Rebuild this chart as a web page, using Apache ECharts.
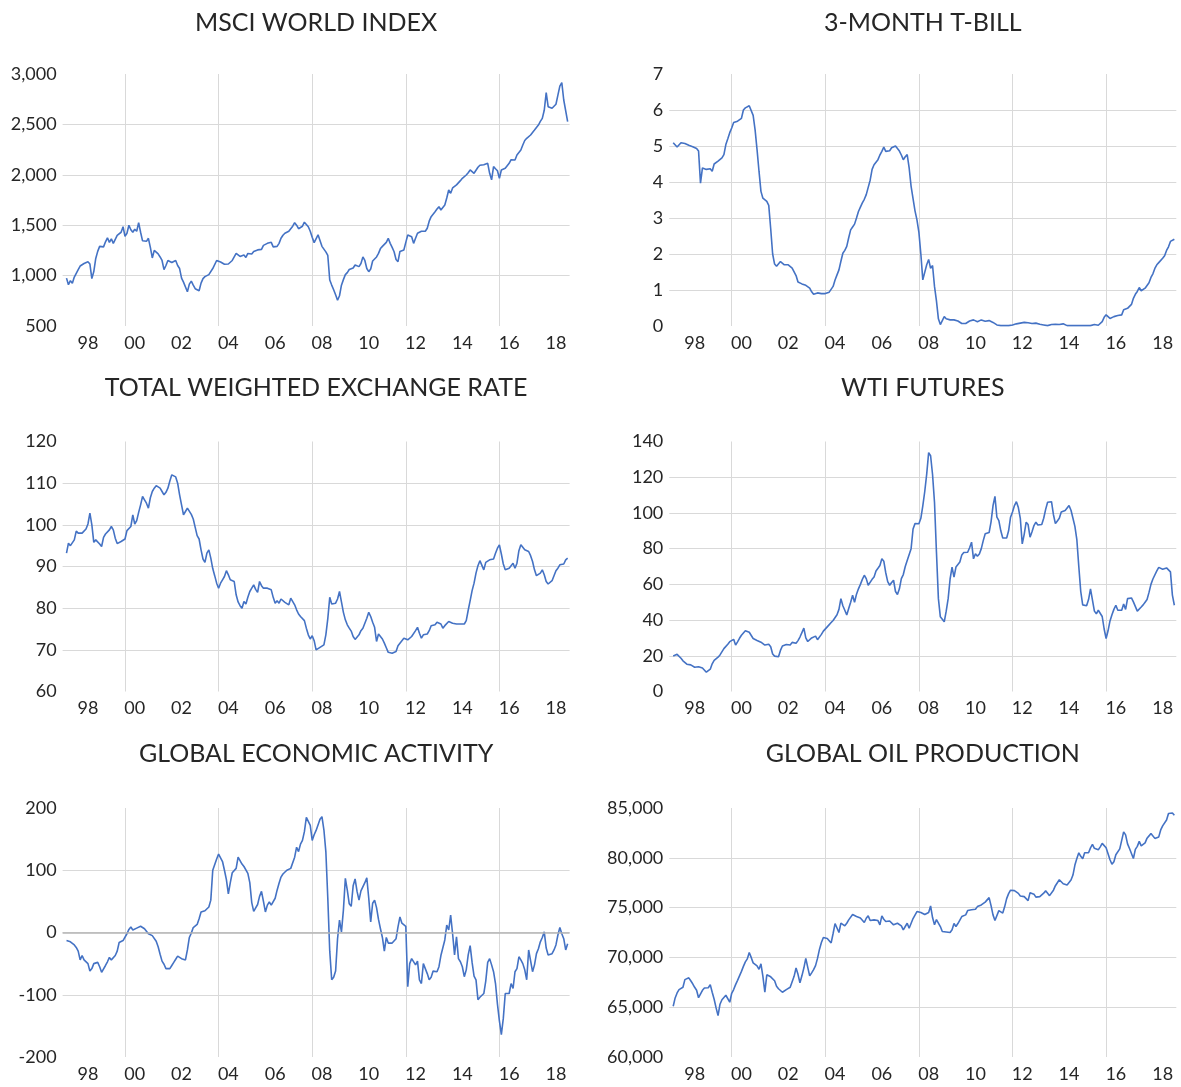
<!DOCTYPE html>
<html>
<head>
<meta charset="utf-8">
<script src="https://cdn.jsdelivr.net/npm/echarts/dist/echarts.min.js"></script>
<style>
html,body{margin:0;padding:0;background:#ffffff;}
#chart{width:1181px;height:1087px;}
</style>
</head>
<body>
<div id="chart"></div>
<script>
// ---------- data (monthly, Jul 1997 - Dec 2018) ----------
const startYear = 1997;
const startMonth = 7;
const xTickLabels = ['98','00','02','04','06','08','10','12','14','16','18'];
const gridYears = [2000, 2004, 2008, 2012, 2016];
const panelTitles = ['MSCI WORLD INDEX','3-MONTH T-BILL','TOTAL WEIGHTED EXCHANGE RATE','WTI FUTURES','GLOBAL ECONOMIC ACTIVITY','GLOBAL OIL PRODUCTION'];

const msciWorld = [
 975,910,950,925,985,1000,
 1060,1095,1110,1120,1125,1137,1115,970,1040,1170,1240,1290,
 1300,1285,1335,1375,1330,1365,1320,1335,1400,1390,1430,1485,
 1390,1420,1500,1455,1430,1460,1440,1525,1430,1345,1330,1340,
 1370,1280,1175,1250,1240,1215,1185,1150,1060,1100,1150,1155,
 1130,1138,1150,1100,1070,975,935,925,840,915,945,905,
 870,855,850,925,970,990,1000,1010,1020,1070,1085,1150,
 1160,1135,1125,1112,1118,1115,1105,1150,1160,1220,1204,1190,
 1185,1205,1180,1220,1225,1215,1240,1235,1255,1270,1260,1300,
 1305,1320,1315,1330,1285,1280,1290,1320,1370,1400,1420,1430,
 1440,1450,1490,1525,1500,1465,1480,1490,1530,1545,1485,1440,
 1380,1327,1345,1405,1390,1290,1300,1235,1200,956,906,860,
 810,755,800,905,960,1010,1030,1060,1058,1075,1105,1090,
 1089,1120,1185,1150,1070,1039,1065,1145,1150,1185,1220,1268,
 1290,1303,1330,1370,1320,1280,1237,1160,1138,1240,1225,1254,
 1330,1403,1400,1386,1320,1370,1420,1436,1440,1426,1440,1470,
 1540,1585,1600,1634,1660,1684,1651,1665,1700,1770,1849,1816,
 1870,1882,1900,1916,1942,1965,1975,1998,2020,2048,2040,2015,
 2000,2075,2095,2114,2100,2088,2114,2015,1950,2081,2060,2040,
 1965,2048,2055,2064,2080,2114,2150,2163,2147,2196,2215,2246,
 2296,2340,2362,2380,2395,2420,2444,2470,2494,2530,2560,2640,
 2815,2676,2665,2660,2680,2700,2790,2880,2914,2742,2759,2527
];

const tBill3m = [
 5.09,5.13,4.97,4.95,5.09,5.12,
 5.07,5.06,5.02,5.0,4.98,4.97,4.93,4.86,3.97,4.39,4.4,4.35,
 4.36,4.37,4.30,4.5,4.55,4.58,4.62,4.67,4.76,5.04,5.2,5.37,
 5.5,5.65,5.67,5.69,5.72,5.77,6.0,6.06,6.05,6.12,6.15,5.85,
 5.45,4.9,4.3,3.74,3.55,3.5,3.46,3.35,2.7,2.0,1.72,1.66,
 1.7,1.79,1.74,1.70,1.71,1.70,1.66,1.61,1.57,1.4,1.22,1.19,
 1.17,1.16,1.13,1.09,1.05,0.95,0.88,0.9,0.92,0.93,0.9,0.87,
 0.9,0.93,0.94,0.96,1.1,1.28,1.42,1.56,1.8,2.02,2.1,2.21,
 2.45,2.67,2.75,2.83,3.0,3.18,3.3,3.42,3.52,3.65,3.85,4.05,
 4.35,4.48,4.55,4.62,4.75,4.85,4.97,4.85,4.9,4.87,4.95,4.9,
 5.0,4.97,4.86,4.75,4.62,4.7,4.76,4.39,3.88,3.83,3.2,2.95,
 2.6,2.0,1.28,1.28,1.7,1.85,1.6,1.68,1.1,0.7,0.2,0.04,
 0.15,0.26,0.2,0.17,0.17,0.17,0.17,0.16,0.14,0.12,0.07,0.07,
 0.07,0.1,0.14,0.16,0.17,0.15,0.12,0.15,0.17,0.12,0.13,0.14,
 0.15,0.13,0.1,0.06,0.03,0.02,0.01,0.01,0.01,0.01,0.01,0.01,
 0.03,0.05,0.06,0.07,0.08,0.09,0.1,0.1,0.09,0.08,0.07,0.06,
 0.08,0.07,0.05,0.04,0.03,0.02,0.01,0.02,0.04,0.05,0.05,0.04,
 0.04,0.05,0.06,0.03,0.01,0.01,0.01,0.01,0.01,0.01,0.01,0.01,
 0.01,0.01,0.01,0.01,0.01,0.01,0.04,0.06,0.02,0.01,0.12,0.24,
 0.31,0.28,0.21,0.24,0.26,0.28,0.29,0.3,0.31,0.45,0.49,0.49,
 0.49,0.6,0.77,0.88,0.96,1.07,0.98,1.0,1.05,1.1,1.2,1.35,
 1.45,1.6,1.7,1.76,1.79,1.88,1.95,2.1,2.2,2.35,2.38,2.41
];

const exchangeRate = [
 93.2,95.6,95.0,94.8,96.4,98.5,
 98.0,98.2,98.0,98.4,99.0,100.2,102.8,100.0,95.8,96.4,96.0,95.4,
 94.8,97.0,97.8,98.2,98.8,99.6,98.8,96.8,95.5,95.2,96.0,96.2,
 96.6,98.6,99.0,99.6,102.4,100.2,101.0,103.0,104.8,106.8,106.0,105.2,
 104.0,106.5,108.0,108.8,109.4,109.8,108.8,108.0,107.2,107.8,108.8,110.5,
 112.0,112.4,111.5,110.0,107.2,104.8,102.4,103.2,104.0,103.8,102.5,101.4,
 99.4,97.4,96.6,94.0,91.8,91.0,93.2,94.0,92.0,89.5,87.8,86.0,
 84.8,86.0,86.8,87.6,89.0,88.0,86.8,86.8,86.4,83.2,81.5,80.6,
 80.0,81.6,81.0,82.6,84.0,84.8,85.6,84.5,83.8,86.4,85.4,84.8,
 85.0,84.8,84.6,84.4,82.6,81.2,81.8,81.2,82.2,81.8,81.4,81.6,
 80.8,82.4,82.0,80.8,79.6,78.6,78.0,77.6,77.0,75.2,73.6,72.6,
 73.4,72.2,70.0,70.2,70.6,70.8,71.2,73.6,77.5,82.6,81.0,81.0,
 81.2,82.2,84.0,81.5,79.0,77.2,76.0,75.2,74.5,73.2,72.5,72.8,
 73.6,74.6,75.2,75.6,77.6,79.0,78.0,76.6,75.4,72.0,73.8,73.4,
 72.6,71.6,70.5,69.4,69.0,69.2,68.8,69.6,71.0,71.6,72.0,72.8,
 72.6,72.4,72.8,73.2,73.6,74.6,75.4,74.0,72.8,73.6,73.6,73.8,
 74.6,75.8,76.2,76.0,76.6,76.8,76.2,75.2,75.8,76.2,76.8,76.6,
 76.4,76.2,76.2,76.2,76.2,76.2,76.2,77.0,79.5,81.8,84.2,86.0,
 88.4,90.2,91.4,91.0,89.2,91.0,91.4,91.6,91.4,91.8,93.2,94.4,
 95.2,93.0,90.6,89.2,89.6,89.6,90.2,90.8,89.6,90.8,93.8,95.2,
 94.8,94.0,94.0,93.6,92.6,91.2,89.2,87.8,87.4,88.4,89.2,88.0,
 86.4,85.8,86.0,86.6,87.8,89.0,89.6,90.4,90.2,90.6,91.6,92.0
];

const wtiFutures = [
 19.9,20.2,20.8,21.4,18.6,17.2,
 16.2,15.3,15.2,14.9,14.5,13.6,13.6,13.9,13.1,13.2,12.1,10.8,
 11.4,12.5,15.5,17.4,18.2,19.2,20.5,21.6,24.0,25.0,26.5,27.9,
 29.0,29.2,26.0,27.8,29.8,31.5,32.2,34.0,33.6,33.2,33.5,29.7,
 29.2,28.6,27.9,27.6,27.0,26.0,26.8,26.5,25.1,21.0,19.8,19.2,
 19.5,23.0,25.5,26.0,26.3,26.2,26.0,27.5,28.0,27.0,28.5,30.5,
 33.0,35.5,30.0,28.0,28.8,30.0,30.1,31.0,29.0,29.8,32.0,33.8,
 34.8,36.2,37.0,38.6,39.8,40.5,43.0,46.0,52.0,48.0,45.5,42.8,
 46.5,50.0,53.9,50.0,54.5,57.5,60.0,62.8,65.1,63.2,59.5,60.5,
 62.8,64.1,67.5,69.0,70.6,74.3,73.0,66.5,61.5,59.5,61.0,62.3,
 56.0,54.3,57.5,63.2,65.5,70.0,73.4,72.5,80.0,91.0,94.0,93.0,
 93.9,97.0,104.0,112.0,121.7,133.8,132.0,121.5,106.0,78.1,52.0,41.8,
 41.3,39.0,45.0,52.0,63.0,69.7,64.1,69.7,68.8,72.5,76.5,77.8,
 77.0,78.0,80.5,83.6,74.3,77.1,75.8,77.0,80.0,84.5,88.3,88.8,
 89.0,95.0,104.0,109.3,97.6,95.7,90.0,86.0,85.5,86.0,90.0,97.6,
 100.5,104.1,106.3,103.0,97.0,82.7,88.0,94.8,93.5,86.4,89.5,92.9,
 94.8,93.2,92.3,93.5,97.0,102.0,106.0,106.3,106.3,99.0,94.0,95.5,
 97.0,100.5,101.3,101.3,102.0,104.1,101.5,97.0,92.5,85.0,70.0,56.0,
 48.5,49.5,48.0,51.5,57.5,58.0,45.0,43.5,45.5,45.0,42.0,35.0,
 29.7,34.0,39.5,43.0,46.0,48.3,45.5,44.8,45.5,49.0,46.0,52.0,
 53.0,52.4,50.2,51.1,45.0,45.8,47.3,48.5,50.0,51.5,55.5,60.0,
 63.0,63.5,67.5,69.5,70.2,68.5,69.5,69.2,70.0,67.0,54.0,48.3
];

const globalActivity = [
 -13,-14,-15,-14,-20,-24,
 -30,-44,-37,-44,-46,-50,-62,-58,-50,-52,-48,-55,
 -64,-62,-53,-47,-40,-44,-42,-37,-30,-16,-15,-13,
 -12,-2,5,9,4,3,7,9,10,10,6,2,
 -2,-4,-5,-8,-14,-23,-35,-46,-51,-58,-61,-58,
 -53,-48,-43,-38,-38,-42,-44,-44,-28,-8,-1,8,
 9,13,22,33,36,35,38,41,52,100,103,118,
 126,123,114,100,85,62,80,96,99,103,121,124,
 110,106,104,95,80,48,34,33,45,58,66,50,
 33,44,49,44,44,55,68,79,89,94,96,100,
 102,103,106,121,137,130,142,148,162,185,186,172,
 148,157,164,164,182,186,165,130,55,-30,-76,-72,
 -62,-10,20,1,36,87,68,46,42,75,86,66,
 52,67,70,80,88,55,17,47,52,40,21,6,
 -8,-30,-8,-17,-15,-17,-17,-10,9,25,15,13,
 10,-87,-50,-42,-40,-52,-46,-76,-82,-50,-47,-66,
 -76,-72,-62,-63,-63,-55,-37,-34,-12,12,4,28,
 -2,-36,-7,-42,-47,-55,-71,-60,-36,-21,-48,-70,
 -76,-108,-104,-101,-98,-78,-48,-42,-52,-63,-82,-115,
 -142,-164,-138,-98,-95,-98,-82,-90,-63,-58,-39,-44,
 -50,-60,-76,-28,-30,-63,-52,-34,-26,-15,-8,1,
 -25,-36,-34,-34,-28,-20,-4,8,-2,-10,-28,-18
];

const oilProduction = [
 65100,65930,66430,66770,66650,67000,
 67770,67930,67950,67650,67350,67000,66700,65950,66050,66700,66930,66770,
 66950,67270,66500,65800,64930,64150,65300,65750,65770,66200,66100,65500,
 66400,66770,67270,67700,68150,68600,69100,69550,69850,70500,70000,69450,
 69350,69150,68800,69350,68100,66500,68250,68400,68050,68050,67650,67100,
 66850,66650,66500,66370,66770,66600,67000,67100,68100,68930,68300,67450,
 68150,68930,69900,69000,68150,68450,68770,69170,69900,70800,71500,72000,
 71930,71900,71850,71450,72400,73400,73600,72500,73450,73550,73170,73430,
 73770,73930,74300,74430,74100,74030,73950,73800,73500,73930,74170,73700,
 73600,73770,73600,73700,73270,74170,73830,73600,73770,73650,73550,73270,
 73350,73430,73500,73170,72770,73100,73430,72930,72770,73900,74100,74600,
 74700,74500,74700,74300,74270,74500,75170,74000,73270,73800,73700,73100,
 72600,72400,72550,72700,72500,72770,73400,73100,73400,73600,74100,73950,
 74270,74700,74830,74780,74770,74830,75100,75100,75270,75350,75550,75750,
 76000,75200,74270,73700,73700,74700,74900,74450,75100,75900,76400,76750,
 76830,76700,76830,76430,76170,76170,76100,75950,75700,76500,76700,76350,
 76050,75950,76100,76200,76450,76700,76650,76200,76300,76750,77200,77500,
 77800,78000,77400,77200,77270,77430,77770,78270,79270,79930,80500,80150,
 79900,80500,80700,80500,81000,81350,80950,80770,80800,81100,81450,81600,
 81000,80400,79800,79350,79600,80300,80350,80900,81750,82600,82300,81400,
 80930,80770,79930,80850,81150,81650,81200,81300,81500,81970,82200,82450,
 82300,81950,81800,82100,82800,83200,83350,83800,84450,84650,84500,84270
];

// ---------- build categories (one per month, with small padding) ----------
const padBefore = 2, padAfter = 1;
const monthCount = msciWorld.length;
const categories = [];
for (let k = -padBefore; k < monthCount + padAfter; k++) {
  const m = startMonth - 1 + k;
  const y = startYear + Math.floor(m / 12);
  const mm = ((m % 12) + 12) % 12 + 1;
  categories.push(y + '-' + String(mm).padStart(2, '0'));
}
function padded(arr) {
  return new Array(padBefore).fill(null).concat(arr, new Array(padAfter).fill(null));
}
const labelCats = {};
xTickLabels.forEach(function (t) {
  const yy = parseInt(t, 10);
  const year = yy > 50 ? 1900 + yy : 2000 + yy;
  labelCats[year + '-06'] = t;
});
const gridCats = gridYears.map(function (y) { return y + '-01'; });

// ---------- layout ----------
const colLeft = [62.6, 669.3];
const gridWidth = 507;
const rowTop = [74, 441.5, 808];
const rowHeight = [252, 250, 249];
const titleCenterY = [23, 388.5, 754];

const panels = [
  { data: msciWorld,      min: 500,   max: 3000,  step: 500,  col: 0, row: 0 },
  { data: tBill3m,        min: 0,     max: 7,     step: 1,    col: 1, row: 0 },
  { data: exchangeRate,   min: 60,    max: 120,   step: 10,   col: 0, row: 1 },
  { data: wtiFutures,     min: 0,     max: 140,   step: 20,   col: 1, row: 1 },
  { data: globalActivity, min: -200,  max: 200,   step: 100,  col: 0, row: 2, zeroLine: true },
  { data: oilProduction,  min: 60000, max: 85000, step: 5000, col: 1, row: 2 }
];

const FONT = 'Lato, "Open Sans", "Noto Sans", sans-serif';
const textColor = '#262626';
const gridColor = '#d9d9d9';
const lineColor = '#4472C4';

const option = {
  backgroundColor: '#ffffff',
  animation: false,
  title: [], grid: [], xAxis: [], yAxis: [], series: []
};

panels.forEach(function (p, i) {
  const left = colLeft[p.col];
  option.title.push({
    text: panelTitles[i],
    left: left + gridWidth / 2,
    top: titleCenterY[p.row] - 13,
    textAlign: 'center',
    padding: 0,
    textStyle: { fontFamily: FONT, fontSize: 25, fontWeight: 'normal', color: textColor }
  });
  option.grid.push({
    left: left, top: rowTop[p.row], width: gridWidth, height: rowHeight[p.row],
    containLabel: false, outerBoundsMode: 'none'
  });
  option.xAxis.push({
    type: 'category',
    gridIndex: i,
    data: categories,
    boundaryGap: false,
    axisLine: { show: false },
    axisTick: { show: false },
    axisLabel: {
      interval: function (idx, val) { return labelCats.hasOwnProperty(val); },
      formatter: function (val) { return labelCats[val] || ''; },
      hideOverlap: false,
      margin: 8,
      fontFamily: FONT, fontSize: 18, color: textColor
    },
    splitLine: {
      show: true,
      interval: function (idx, val) { return gridCats.indexOf(val) >= 0; },
      lineStyle: { color: gridColor, width: 1 }
    }
  });
  option.yAxis.push({
    type: 'value',
    gridIndex: i,
    min: p.min, max: p.max, interval: p.step,
    axisLine: { show: false },
    axisTick: { show: false },
    axisLabel: {
      margin: 6,
      fontFamily: FONT, fontSize: 18, color: textColor,
      formatter: function (v) { return Number(v).toLocaleString('en-US'); }
    },
    splitLine: {
      show: true, showMinLine: false, showMaxLine: false,
      lineStyle: { color: gridColor, width: 1 }
    }
  });
  const s = {
    type: 'line',
    xAxisIndex: i, yAxisIndex: i,
    data: padded(p.data),
    showSymbol: false, symbol: 'none',
    connectNulls: false,
    lineStyle: { color: lineColor, width: 1.6 },
    itemStyle: { color: lineColor },
    silent: true,
    z: 3
  };
  if (p.zeroLine) {
    s.markLine = {
      silent: true, symbol: ['none', 'none'], animation: false,
      label: { show: false },
      lineStyle: { color: '#b4b4b4', width: 1.5, type: 'solid' },
      data: [{ yAxis: 0 }]
    };
  }
  option.series.push(s);
});

const chart = echarts.init(document.getElementById('chart'), null, { renderer: 'canvas', width: 1181, height: 1087 });
chart.setOption(option);
</script>
</body>
</html>
